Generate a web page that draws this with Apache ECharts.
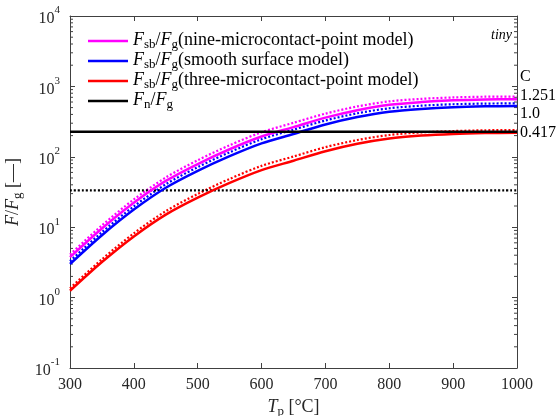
<!DOCTYPE html>
<html>
<head>
<meta charset="utf-8">
<script src="https://cdn.jsdelivr.net/npm/echarts@6/dist/echarts.min.js"></script>
<style>
	html, body { margin: 0; padding: 0; background: #fff; }
	#chart { width: 558px; height: 416px; }
</style>
</head>
<body>
<div id="chart"></div>
<script>
	// temperatures (°C)
	var temps = [300, 350, 400, 450, 500, 550, 600, 650, 700, 750, 800, 850, 900, 950, 1000]

	// solid curves
	var nineSolid = [3.75, 9.6, 22.3, 45.4, 79, 128, 194, 264, 360, 459, 547, 599, 634, 652, 659]
	var smoothSolid = [3.0, 7.7, 17.8, 36.3, 63.1, 102, 155, 211, 288, 367, 437, 479, 507, 521, 527]
	var threeSolid = [1.25, 3.2, 7.4, 15.1, 26.3, 42.5, 64.6, 88, 120, 153, 182, 200, 211, 217, 220]

	// dotted curves
	var nineDot = [4.1, 10.6, 24.8, 50.8, 89.3, 146, 223, 304, 410, 519, 613, 665, 697, 714, 718]
	var smoothDot = [3.3, 8.5, 19.8, 40.7, 71.3, 116, 178, 243, 328, 415, 489, 532, 558, 570, 574]
	var threeDot = [1.36, 3.5, 8.2, 16.9, 29.7, 48.5, 74.3, 101, 137, 173, 204, 222, 232, 238, 240]

	// horizontal levels
	var fnLevel = 227.6
	var fnDotLevel = 33.4
	var xRange = [300, 1000]

	// log axis minor ticks
	var decades = [0.1, 1, 10, 100, 1000]
	var minorMults = [2, 3, 4, 5, 6, 7, 8, 9]

	var rightLabels = ['C', '1.251', '1.0', '0.417']

	var serif = 'Liberation Serif'
	var axisColor = '#404040'
	var labelColor = '#262626'

	function pairs(ys) {
		return temps.map(function (t, i) {
			return [t, ys[i]]
		})
	}

	function level(v) {
		return xRange.map(function (t) {
			return [t, v]
		})
	}

	var minorTicks = []
	decades.forEach(function (d) {
		minorMults.forEach(function (m) {
			minorTicks.push([xRange[0], d * m])
		})
	})

	var legendText = {
		nine: '{i|F}{s|sb}{t|/}{i|F}{s|g}{t|(nine-microcontact-point model)}',
		smooth: '{i|F}{s|sb}{t|/}{i|F}{s|g}{t|(smooth surface model)}',
		three: '{i|F}{s|sb}{t|/}{i|F}{s|g}{t|(three-microcontact-point model)}',
		fn: '{i|F}{s|n}{t|/}{i|F}{s|g}'
	}

	function richSet(size, subSize, color) {
		return {
			i: { fontFamily: serif, fontSize: size, fontStyle: 'italic', lineHeight: 20, verticalAlign: 'top', color: color },
			t: { fontFamily: serif, fontSize: size, lineHeight: 20, verticalAlign: 'top', color: color },
			s: { fontFamily: serif, fontSize: subSize, lineHeight: 12, verticalAlign: 'bottom', color: color }
		}
	}

	function line(name, data, color, dotted, z) {
		return {
			name: name,
			type: 'line',
			data: data,
			smooth: 0.3,
			symbol: 'none',
			z: z,
			lineStyle: {
				color: color,
				width: dotted ? 2.2 : 2.5,
				type: dotted ? [2, 2] : 'solid'
			},
			itemStyle: { color: color }
		}
	}

	var dom = echarts.init(document.getElementById('chart'))

	var option = {
		animation: false,
		grid: {
			left: 70,
			right: 41,
			top: 16,
			bottom: 48,
			outerBoundsMode: 'none'
		},
		legend: {
			orient: 'vertical',
			left: 83,
			top: 26,
			itemGap: 0,
			itemWidth: 40,
			itemHeight: 2.5,
			icon: 'rect',
			data: ['nine', 'smooth', 'three', 'fn'],
			formatter: function (name) {
				return legendText[name]
			},
			textStyle: { rich: richSet(18, 13, '#000') }
		},
		xAxis: [{
			type: 'value',
			min: 300,
			max: 1000,
			interval: 100,
			name: '{i|T}{s|p}{t| [°C]}',
			nameLocation: 'middle',
			nameGap: 26,
			nameTextStyle: { rich: richSet(18, 13, labelColor) },
			axisLine: { lineStyle: { color: axisColor } },
			axisTick: { inside: true, length: 5, lineStyle: { color: axisColor } },
			splitLine: { show: false },
			axisLabel: {
				fontFamily: serif,
				fontSize: 16,
				color: labelColor,
				margin: 9,
				formatter: function (v) {
					return String(v)
				}
			}
		}, {
			type: 'value',
			position: 'top',
			min: 300,
			max: 1000,
			interval: 100,
			axisLine: { show: true, lineStyle: { color: axisColor } },
			axisTick: { inside: true, length: 5, lineStyle: { color: axisColor } },
			splitLine: { show: false },
			axisLabel: { show: false }
		}],
		yAxis: [{
			type: 'log',
			logBase: 10,
			min: 0.1,
			max: 10000,
			name: '{i|F}{t|/}{i|F}{s|g}{t| [—]}',
			nameLocation: 'middle',
			nameRotate: 90,
			nameGap: 41,
			nameTextStyle: { rich: richSet(18, 13, labelColor) },
			axisLine: { show: true, lineStyle: { color: axisColor } },
			axisTick: { inside: true, length: 5, lineStyle: { color: axisColor } },
			splitLine: { show: false },
			axisLabel: {
				margin: 10,
				formatter: function (v) {
					return '{b|10}{e|' + Math.round(Math.log10(v)) + '}'
				},
				rich: {
					b: { fontFamily: serif, fontSize: 16, lineHeight: 22, verticalAlign: 'bottom', color: labelColor },
					e: { fontFamily: serif, fontSize: 11, lineHeight: 10, verticalAlign: 'top', color: labelColor }
				}
			}
		}, {
			type: 'log',
			logBase: 10,
			min: 0.1,
			max: 10000,
			position: 'right',
			axisLine: { show: true, lineStyle: { color: axisColor } },
			axisTick: { inside: true, length: 5, lineStyle: { color: axisColor } },
			splitLine: { show: false },
			axisLabel: { show: false }
		}],
		graphic: rightLabels.map(function (txt, i) {
			return {
				type: 'text',
				left: 520,
				top: [69, 88, 106, 125][i],
				style: { text: txt, fontFamily: serif, fontSize: 16, fill: '#000' }
			}
		}).concat([{
			type: 'text',
			right: 46,
			top: 28,
			style: { text: 'tiny', fontFamily: serif, fontSize: 14, fontStyle: 'italic', fill: '#000' }
		}]),
		series: [
			{
				name: 'minorTicks',
				type: 'custom',
				data: minorTicks,
				silent: true,
				clip: false,
				z: 1,
				renderItem: function (params, api) {
					var v = api.value(1)
					var p = api.coord([xRange[0], v])
					var q = api.coord([xRange[1], v])
					return {
						type: 'group',
						children: [{
							type: 'line',
							shape: { x1: p[0], y1: p[1], x2: p[0] + 3, y2: p[1] },
							style: { stroke: axisColor, lineWidth: 1 }
						}, {
							type: 'line',
							shape: { x1: q[0] - 3, y1: q[1], x2: q[0], y2: q[1] },
							style: { stroke: axisColor, lineWidth: 1 }
						}]
					}
				}
			},
			line('nineDot', pairs(nineDot), '#ff00ff', true, 2),
			line('smoothDot', pairs(smoothDot), '#0000ff', true, 2),
			line('threeDot', pairs(threeDot), '#ff0000', true, 2),
			line('fnDot', level(fnDotLevel), '#000000', true, 2),
			line('nine', pairs(nineSolid), '#ff00ff', false, 3),
			line('smooth', pairs(smoothSolid), '#0000ff', false, 3),
			line('three', pairs(threeSolid), '#ff0000', false, 3),
			line('fn', level(fnLevel), '#000000', false, 3)
		]
	}

	dom.setOption(option, true)
</script>
</body>
</html>
